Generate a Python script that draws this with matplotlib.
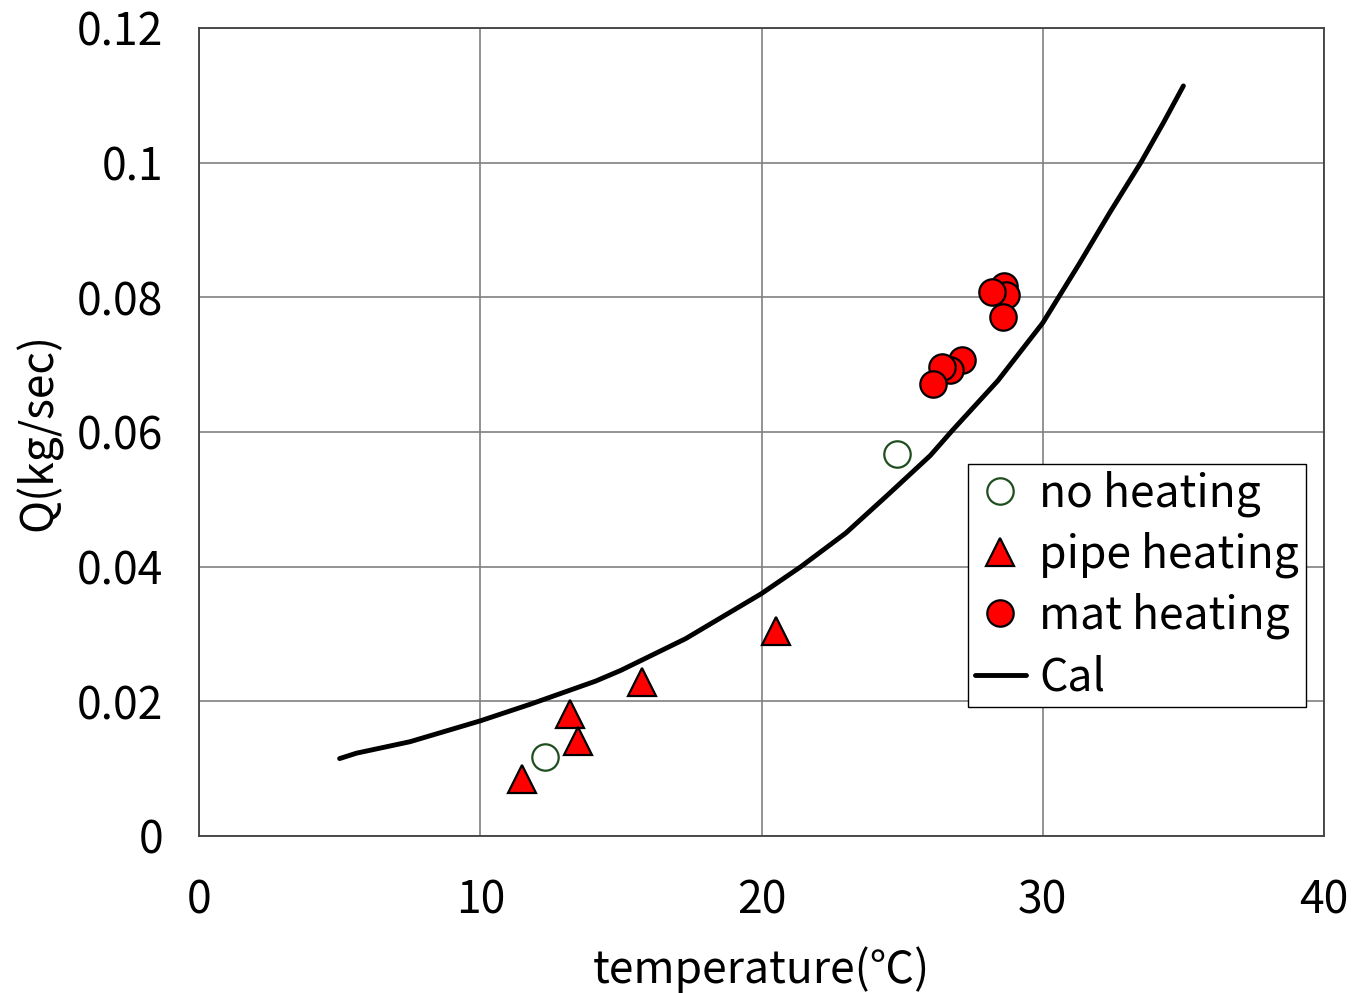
import matplotlib
matplotlib.use("Agg")
import matplotlib.pyplot as plt

plt.rcParams['font.family'] = ['Noto Sans CJK JP', 'DejaVu Sans']

# no heating
nh_x = [12.30, 24.82]
nh_y = [0.0117, 0.0567]
# pipe heating
ph_x = [11.49, 13.19, 13.49, 15.75, 20.50]
ph_y = [0.0085, 0.0181, 0.0141, 0.0229, 0.0305]
# mat heating
mh_x = [28.62, 28.69, 28.20, 28.60, 27.12, 26.70, 26.40, 26.11]
mh_y = [0.0817, 0.0803, 0.0808, 0.0771, 0.0707, 0.0692, 0.0697, 0.0671]
# Cal curve
cal_x = [5.0, 5.6, 7.5, 10.0, 11.8, 14.1, 15.0, 17.3, 20.0, 21.4, 23.0, 24.5, 26.0, 26.8, 28.4, 30.0, 31.3, 32.4, 33.5, 34.3, 35.0]
cal_y = [0.0115, 0.0123, 0.0140, 0.0171, 0.0196, 0.0230, 0.0246, 0.0293, 0.0360, 0.0400, 0.0450, 0.0507, 0.0565, 0.0603, 0.0676, 0.0762, 0.0850, 0.0927, 0.1001, 0.1060, 0.1114]

xticks = [0, 10, 20, 30, 40]
yticks = [0, 0.02, 0.04, 0.06, 0.08, 0.1, 0.12]
ytick_labels = ['0', '0.02', '0.04', '0.06', '0.08', '0.1', '0.12']

fig = plt.figure(figsize=(13.55, 9.93), dpi=100)
ax = fig.add_axes([199/1355, 1-836/993, 1125/1355, 808/993])

ax.plot(nh_x, nh_y, linestyle='none', marker='o', markersize=19, markerfacecolor='white',
        markeredgecolor='#1e4d1e', markeredgewidth=1.6, label='no heating', zorder=4)
ax.plot(ph_x, ph_y, linestyle='none', marker='^', markersize=20, markerfacecolor='#ff0000',
        markeredgecolor='black', markeredgewidth=1.6, label='pipe heating', zorder=4)
ax.plot(mh_x, mh_y, linestyle='none', marker='o', markersize=19, markerfacecolor='#ff0000',
        markeredgecolor='black', markeredgewidth=1.6, label='mat heating', zorder=4)
ax.plot(cal_x, cal_y, color='black', linewidth=3.5, label='Cal', zorder=3,
        solid_capstyle='round', solid_joinstyle='round')

ax.set_xlim(0, 40)
ax.set_ylim(0, 0.12)
ax.set_xticks(xticks)
ax.set_xticklabels([str(t) for t in xticks])
ax.set_yticks(yticks)
ax.set_yticklabels(ytick_labels)
ax.tick_params(axis='both', length=0, labelsize=32)
ax.tick_params(axis='y', pad=26)
ax.tick_params(axis='x', pad=30)
ax.grid(True, color='#808080', linewidth=1.2)
ax.set_axisbelow(True)
for s in ax.spines.values():
    s.set_color('#404040')
    s.set_linewidth(1.3)

ax.set_xlabel('temperature(℃)', fontsize=32, labelpad=16)
ax.set_ylabel('Q(kg/sec)', fontsize=32, labelpad=10)

leg = ax.legend(loc='upper left', bbox_to_anchor=(0.6836, 0.4604), fontsize=32,
                frameon=True, fancybox=False, edgecolor='black', framealpha=1,
                borderpad=0.15, labelspacing=0.33, handlelength=1.15, handletextpad=0.3,
                borderaxespad=0, markerscale=1.0)
leg.get_frame().set_linewidth(1.0)

fig.savefig('out.png', dpi=100, facecolor='white')
